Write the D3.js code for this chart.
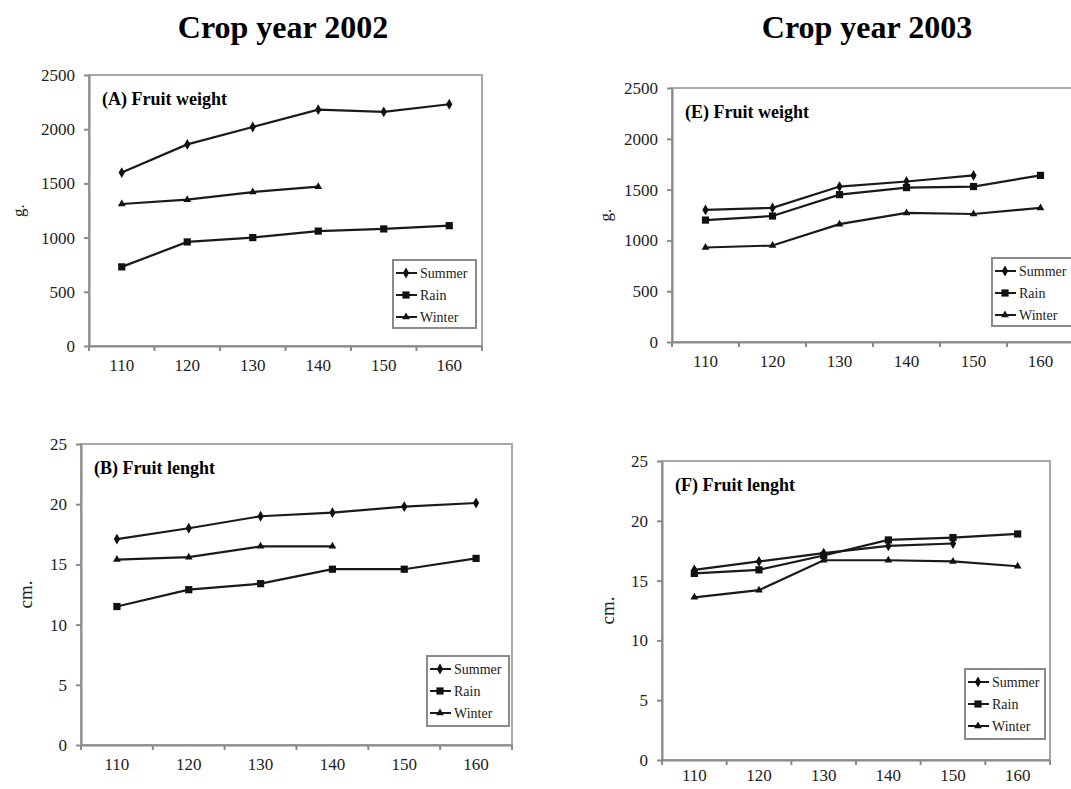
<!DOCTYPE html>
<html>
<head>
<meta charset="utf-8">
<script src="https://cdn.jsdelivr.net/npm/d3@7"></script>
<style>
  body { margin: 0; background: #fff; }
  svg { display: block; font-family: "Liberation Serif", "Times New Roman", serif; }
  svg text { font-family: "Liberation Serif", "Times New Roman", serif; }
</style>
</head>
<body>
<svg id="chart" width="1071" height="789"></svg>
<script>
// harvest age (days) on x axis
const cropAges = [110, 120, 130, 140, 150, 160];
const weightTicks = [0, 500, 1000, 1500, 2000, 2500];
const lengthTicks = [0, 5, 10, 15, 20, 25];
const seasons = ['Summer', 'Rain', 'Winter'];

// crop year 2002
const weight2002Summer = [1600, 1860, 2020, 2180, 2160, 2230];
const weight2002Rain = [730, 960, 1000, 1060, 1080, 1110];
const weight2002Winter = [1310, 1350, 1420, 1470, null, null];
const length2002Summer = [17.1, 18.0, 19.0, 19.3, 19.8, 20.1];
const length2002Rain = [11.5, 12.9, 13.4, 14.6, 14.6, 15.5];
const length2002Winter = [15.4, 15.6, 16.5, 16.5, null, null];

// crop year 2003
const weight2003Summer = [1300, 1320, 1530, 1580, 1640, null];
const weight2003Rain = [1200, 1240, 1450, 1520, 1530, 1640];
const weight2003Winter = [930, 950, 1160, 1270, 1260, 1320];
const length2003Summer = [15.9, 16.6, 17.3, 17.9, 18.1, null];
const length2003Rain = [15.6, 15.9, 17.1, 18.4, 18.6, 18.9];
const length2003Winter = [13.6, 14.2, 16.7, 16.7, 16.6, 16.2];

const svg = d3.select('#chart');
const serif = 'Liberation Serif, Times New Roman, serif';

const markers = {
    Summer: d3.symbol().type(d3.symbolDiamond).size(34),
    Rain: d3.symbol().type(d3.symbolSquare).size(52),
    Winter: d3.symbol().type(d3.symbolTriangle).size(26)
};

// column titles
svg.append('text').attr('x', 283).attr('y', 38)
    .attr('text-anchor', 'middle').attr('font-size', 32).attr('font-weight', 'bold')
    .text('Crop year 2002');
svg.append('text').attr('x', 867).attr('y', 38)
    .attr('text-anchor', 'middle').attr('font-size', 32).attr('font-weight', 'bold')
    .text('Crop year 2003');

const panels = [
    { title: '(A) Fruit weight', unit: 'g.', unitX: 18, unitSize: 17, pad: 13,
      box: { left: 89, right: 482, top: 75, bottom: 346 },
      ticks: weightTicks, series: [weight2002Summer, weight2002Rain, weight2002Winter],
      legend: { x: 393, y: 260, w: 83, h: 68 } },
    { title: '(B) Fruit lenght', unit: 'cm.', unitX: 25, unitSize: 19, pad: 13,
      box: { left: 81, right: 512, top: 444, bottom: 745 },
      ticks: lengthTicks, series: [length2002Summer, length2002Rain, length2002Winter],
      legend: { x: 427, y: 656, w: 82, h: 70 } },
    { title: '(E) Fruit weight', unit: 'g.', unitX: 605, unitSize: 17, pad: 13,
      box: { left: 672, right: 1074, top: 88, bottom: 342 },
      ticks: weightTicks, series: [weight2003Summer, weight2003Rain, weight2003Winter],
      legend: { x: 992, y: 258, w: 84, h: 68 } },
    { title: '(F) Fruit lenght', unit: 'cm.', unitX: 607, unitSize: 19, pad: 9,
      box: { left: 662, right: 1050, top: 461, bottom: 760 },
      ticks: lengthTicks, series: [length2003Summer, length2003Rain, length2003Winter],
      legend: { x: 965, y: 669, w: 80, h: 70 } }
];

panels.forEach(p => drawPanel(p));

function drawPanel(p) {
    const b = p.box;
    const g = svg.append('g');

    const x = d3.scaleBand().domain(cropAges).range([b.left, b.right]);
    const y = d3.scaleLinear().domain([0, d3.max(p.ticks)]).range([b.bottom, b.top]);

    // plot frame
    g.append('rect')
        .attr('x', b.left).attr('y', b.top)
        .attr('width', b.right - b.left).attr('height', b.bottom - b.top)
        .attr('fill', 'none').attr('stroke', '#a8a8a8').attr('stroke-width', 2);

    // y axis
    const yAxis = g.append('g')
        .attr('transform', `translate(${b.left},0)`)
        .call(d3.axisLeft(y).tickValues(p.ticks).tickFormat(d3.format('d'))
            .tickSize(5).tickPadding(9).tickSizeOuter(0))
        .attr('font-family', serif).attr('font-size', 17);
    yAxis.select('.domain').attr('stroke', '#8a8a8a').attr('stroke-width', 2);
    yAxis.selectAll('.tick line').attr('stroke', '#8a8a8a').attr('stroke-width', 2);
    yAxis.selectAll('text').attr('fill', '#222');

    // x axis: labels at band centres, tick marks at band edges
    const xAxis = g.append('g')
        .attr('transform', `translate(0,${b.bottom})`)
        .call(d3.axisBottom(x).tickSize(0).tickPadding(p.pad).tickSizeOuter(0))
        .attr('font-family', serif).attr('font-size', 17);
    xAxis.select('.domain').attr('stroke', '#8a8a8a').attr('stroke-width', 2);
    xAxis.selectAll('text').attr('fill', '#222');
    const edges = cropAges.map(d => x(d)).concat([b.right]);
    g.selectAll('.xedge').data(edges).enter().append('line')
        .attr('x1', d => d).attr('x2', d => d)
        .attr('y1', b.bottom).attr('y2', b.bottom + 5)
        .attr('stroke', '#8a8a8a').attr('stroke-width', 2);

    // unit label
    const cy = (b.top + b.bottom) / 2;
    g.append('text')
        .attr('transform', `translate(${p.unitX},${cy}) rotate(-90)`)
        .attr('text-anchor', 'middle').attr('dy', '0.35em')
        .attr('font-size', p.unitSize).attr('fill', '#222')
        .text(p.unit);

    // panel title
    g.append('text')
        .attr('x', b.left + 13).attr('y', b.top + 30)
        .attr('font-size', 18).attr('font-weight', 'bold')
        .text(p.title);

    // series
    const line = d3.line()
        .defined(d => d.v != null)
        .x(d => x(d.age) + x.bandwidth() / 2)
        .y(d => y(d.v));

    p.series.forEach((vals, i) => {
        const pts = cropAges.map((age, j) => ({ age: age, v: vals[j] }));
        g.append('path').datum(pts)
            .attr('fill', 'none').attr('stroke', '#1a1a1a').attr('stroke-width', 2.2)
            .attr('d', line);
        g.selectAll('.m' + i).data(pts.filter(d => d.v != null)).enter().append('path')
            .attr('transform', d => `translate(${x(d.age) + x.bandwidth() / 2},${y(d.v)})`)
            .attr('d', markers[seasons[i]]())
            .attr('fill', '#111');
    });

    // legend
    const L = p.legend;
    const lg = g.append('g').attr('transform', `translate(${L.x},${L.y})`);
    lg.append('rect').attr('width', L.w).attr('height', L.h)
        .attr('fill', '#fff').attr('stroke', '#8a8a8a').attr('stroke-width', 2);
    seasons.forEach((s, i) => {
        const ry = 13 + i * 22;
        lg.append('line').attr('x1', 3).attr('x2', 24).attr('y1', ry).attr('y2', ry)
            .attr('stroke', '#1a1a1a').attr('stroke-width', 2);
        lg.append('path').attr('transform', `translate(13,${ry})`)
            .attr('d', markers[s]()).attr('fill', '#111');
        lg.append('text').attr('x', 27).attr('y', ry).attr('dy', '0.35em')
            .attr('font-size', 14).attr('fill', '#222').text(s);
    });
}
</script>
</body>
</html>
